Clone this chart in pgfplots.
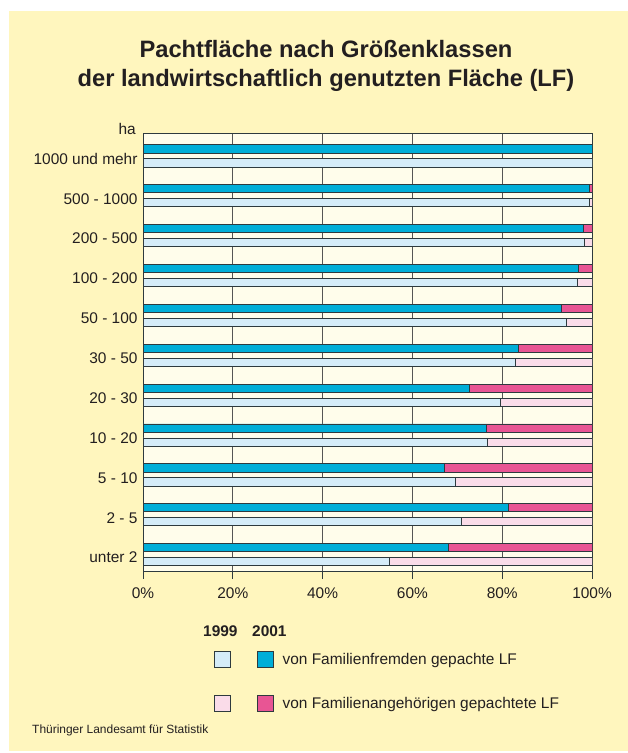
\documentclass[border=0pt]{standalone}
\usepackage{pgfplots}
\pgfplotsset{compat=1.18}
\usepackage{fontspec}
\setmainfont{Liberation Sans}
\definecolor{bgyellow}{HTML}{FFF6BE}
\definecolor{plotbg}{HTML}{FFFDEB}
\definecolor{darkblue}{HTML}{00AED8}
\definecolor{lightblue}{HTML}{D5ECF8}
\definecolor{magentac}{HTML}{E85594}
\definecolor{lightpink}{HTML}{FADCE9}
\definecolor{outl}{HTML}{2E3A3E}
\definecolor{gridc}{HTML}{555555}
\definecolor{txt}{HTML}{231F20}
\pgfplotsset{
  mybase/.style={
    scale only axis, width=449bp, height=438bp,
    at={(143bp,182bp)}, anchor=south west,
    xmin=0, xmax=100, ymin=-0.409, ymax=10.572,
    xbar stacked, bar width=8.2bp,
  },
  barst/.style={draw=outl, line width=0.8pt},
  legsqA/.style={draw=outl, line width=0.8pt,
    legend image code/.code={\draw[##1] (0bp,-8bp) rectangle (16bp,8bp); \path (41bp,0bp);}},
  legsqB/.style={draw=outl, line width=0.8pt,
    legend image code/.code={\draw[##1] (0bp,-8bp) rectangle (16bp,8bp); \path (25bp,0bp);}},
}
\begin{document}
\begin{tikzpicture}[x=1bp,y=1bp]
\useasboundingbox (0,0) rectangle (628,753);
\fill[white] (0,0) rectangle (628,753);
\fill[bgyellow] (9,2) rectangle (628,742);
\node[anchor=base, font=\fontsize{23.8}{28}\selectfont\bfseries, text=txt, inner sep=0pt] at (326,695) {Pachtfläche nach Größenklassen};
\node[anchor=base, font=\fontsize{23.8}{28}\selectfont\bfseries, text=txt, inner sep=0pt] at (326,666) {der landwirtschaftlich genutzten Fläche (LF)};
\node[anchor=base east, font=\fontsize{15.5}{18}\selectfont, text=txt, inner sep=0pt] at (136,618) {ha};

\begin{axis}[mybase, bar shift=-7bp,
  axis background/.style={fill=plotbg},
  axis line style={draw=outl, line width=0.8pt},
  xmajorgrids, grid style={draw=gridc, line width=0.8pt},
  xtick={0,20,40,60,80,100},
  xtick pos=left, ytick pos=left,
  tick align=outside, major tick length=8bp,
  xtick style={draw=outl, line width=0.8pt},
  ytick style={draw=none},
  ytick={0,1,2,3,4,5,6,7,8,9,10},
  yticklabels={unter 2, 2 - 5, 5 - 10, 10 - 20, 20 - 30, 30 - 50, 50 - 100, 100 - 200, 200 - 500, 500 - 1000, 1000 und mehr},
  tick label style={font=\fontsize{15.5}{18}\selectfont, text=txt},
  yticklabel style={xshift=6bp, yshift=-3bp},
  xticklabel style={yshift=-5bp},
  /pgf/number format/assume math mode=true,
  xticklabel={\pgfmathprintnumber{\tick}\%},
]
\addplot[barst, fill=lightblue] coordinates {(54.8,0) (71.0,1) (69.6,2) (76.8,3) (79.6,4) (82.9,5) (94.4,6) (96.7,7) (98.4,8) (99.5,9) (100,10)};
\addplot[barst, fill=lightpink] coordinates {(45.2,0) (29.0,1) (30.4,2) (23.2,3) (20.4,4) (17.1,5) (5.6,6) (3.3,7) (1.6,8) (0.5,9) (0,10)};
\end{axis}

\begin{axis}[mybase, bar shift=7bp, hide axis,
  legend columns=2, legend cell align=left,
  legend style={at={(axis description cs:0.1581,-0.1826)}, anchor=north west,
    draw=none, fill=none, inner sep=0pt, outer sep=0pt,
    column sep=0pt, row sep=27bp,
    nodes={inner sep=0pt, font=\fontsize{15.5}{18}\selectfont, text=txt}},
]
\addlegendimage{legsqA, fill=lightblue}
\addlegendentry{}
\addplot[barst, legsqB, fill=darkblue] coordinates {(68.1,0) (81.3,1) (67.2,2) (76.4,3) (72.8,4) (83.5,5) (93.2,6) (97.0,7) (98.1,8) (99.4,9) (100,10)};
\addlegendentry{von Familienfremden gepachte LF}
\addlegendimage{legsqA, fill=lightpink}
\addlegendentry{}
\addplot[barst, legsqB, fill=magentac] coordinates {(31.9,0) (18.7,1) (32.8,2) (23.6,3) (27.2,4) (16.5,5) (6.8,6) (3.0,7) (1.9,8) (0.6,9) (0,10)};
\addlegendentry{von Familienangehörigen gepachtete LF}
\end{axis}

\node[anchor=base west, font=\fontsize{15.5}{18}\selectfont\bfseries, text=txt, inner sep=0pt] at (203,116) {1999};
\node[anchor=base west, font=\fontsize{15.5}{18}\selectfont\bfseries, text=txt, inner sep=0pt] at (252,116) {2001};
\node[anchor=base west, font=\fontsize{12}{14}\selectfont, text=txt, inner sep=0pt] at (32,19) {Thüringer Landesamt für Statistik};
\end{tikzpicture}
\end{document}
